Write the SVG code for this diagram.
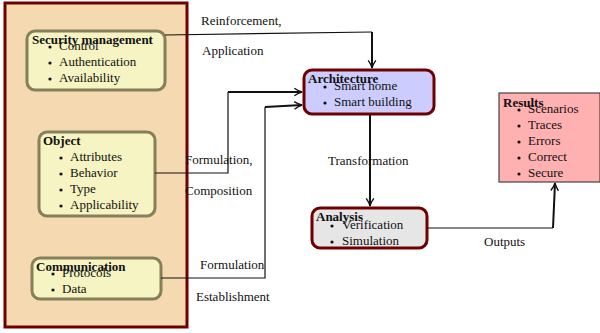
<svg xmlns="http://www.w3.org/2000/svg" width="600" height="333" viewBox="0 0 600 333">
  <defs>
    <style>
      text { font-size: 13px; fill: #111; }
      .title { font-weight: bold; }
      .inner { fill: #F5F4C2; stroke: #857F5C; stroke-width: 3; }
      .main { stroke: #700000; stroke-width: 3; }
      .thin { fill: none; stroke: #111; stroke-width: 1.2; }
      .thick { fill: none; stroke: #111; stroke-width: 2; }
      .dot { fill: #111; }
    </style>
    <marker id="arrow" viewBox="0 0 10 10" refX="9" refY="5" markerWidth="9" markerHeight="9" markerUnits="userSpaceOnUse" orient="auto" overflow="visible">
      <path d="M0.5,0.8 Q5,4 9,5 Q5,6 0.5,9.2" fill="none" stroke="#111" stroke-width="1.5"/>
    </marker>
  </defs>

  <g font-family="Liberation Serif, Times New Roman, serif">
  <!-- container for the input aspects -->
  <rect id="container" x="5" y="3" width="182" height="324" fill="#F5D9B1" class="main"/>

  <g id="security">
    <rect class="inner" x="27" y="31" width="138" height="59" rx="8"/>
    <text class="title" x="32" y="44">Security management</text>
    <circle class="dot" cx="50" cy="47" r="1.6"/><text x="59" y="50">Control</text>
    <circle class="dot" cx="50" cy="63" r="1.6"/><text x="59" y="66">Authentication</text>
    <circle class="dot" cx="50" cy="79" r="1.6"/><text x="59" y="82">Availability</text>
  </g>

  <g id="object">
    <rect class="inner" x="39" y="132" width="116" height="84" rx="8"/>
    <text class="title" x="43" y="145">Object</text>
    <circle class="dot" cx="61" cy="158" r="1.6"/><text x="70" y="161">Attributes</text>
    <circle class="dot" cx="61" cy="174" r="1.6"/><text x="70" y="177">Behavior</text>
    <circle class="dot" cx="61" cy="190" r="1.6"/><text x="70" y="193">Type</text>
    <circle class="dot" cx="61" cy="206" r="1.6"/><text x="70" y="209">Applicability</text>
  </g>

  <g id="communication">
    <rect class="inner" x="32" y="258" width="129" height="41" rx="8"/>
    <text class="title" x="36" y="271">Communication</text>
    <circle class="dot" cx="53" cy="274" r="1.6"/><text x="62" y="277">Protocols</text>
    <circle class="dot" cx="53" cy="290" r="1.6"/><text x="62" y="293">Data</text>
  </g>

  <g id="architecture">
    <rect x="304" y="70" width="130" height="44" rx="8" fill="#CCCCFF" class="main"/>
    <text class="title" x="308" y="83">Architecture</text>
    <circle class="dot" cx="325" cy="87" r="1.6"/><text x="334" y="90">Smart home</text>
    <circle class="dot" cx="325" cy="103" r="1.6"/><text x="334" y="106">Smart building</text>
  </g>

  <g id="analysis">
    <rect x="312" y="208" width="115" height="40" rx="8" fill="#E6E6E6" class="main"/>
    <text class="title" x="316" y="221">Analysis</text>
    <circle class="dot" cx="332" cy="226" r="1.6"/><text x="342" y="229">Verification</text>
    <circle class="dot" cx="332" cy="242" r="1.6"/><text x="342" y="245">Simulation</text>
  </g>

  <g id="results">
    <rect x="499" y="93" width="101" height="89" fill="#FFB0B0" stroke="#444" stroke-width="1.2"/>
    <text class="title" x="503" y="107">Results</text>
    <circle class="dot" cx="519" cy="110" r="1.6"/><text x="528" y="113">Scenarios</text>
    <circle class="dot" cx="519" cy="126" r="1.6"/><text x="528" y="129">Traces</text>
    <circle class="dot" cx="519" cy="142" r="1.6"/><text x="528" y="145">Errors</text>
    <circle class="dot" cx="519" cy="158" r="1.6"/><text x="528" y="161">Correct</text>
    <circle class="dot" cx="519" cy="174" r="1.6"/><text x="528" y="177">Secure</text>
  </g>

  <g id="connectors">
    <!-- security -> architecture -->
    <path class="thin" d="M165,35 L372,32"/>
    <path class="thick" d="M372,32 L372,68" marker-end="url(#arrow)"/>
    <!-- object -> architecture -->
    <path class="thin" d="M155,173 L228,173 L228,92"/>
    <path class="thick" d="M228,92 L302,92" marker-end="url(#arrow)"/>
    <!-- communication -> architecture -->
    <path class="thin" d="M161,278 L265,278 L265,107"/>
    <path class="thick" d="M265,107 L302,105" marker-end="url(#arrow)"/>
    <!-- architecture -> analysis -->
    <path class="thick" d="M370,115 L370,206" marker-end="url(#arrow)"/>
    <!-- analysis -> results -->
    <path class="thin" d="M427,228 L553,228"/>
    <path class="thick" d="M553,228 L555,183" marker-end="url(#arrow)"/>

    <text x="201" y="25">Reinforcement,</text>
    <text x="202" y="55">Application</text>
    <text x="185" y="164">Formulation,</text>
    <text x="185" y="195">Composition</text>
    <text x="200" y="269">Formulation</text>
    <text x="196" y="301">Establishment</text>
    <text x="328" y="165">Transformation</text>
    <text x="484" y="246">Outputs</text>
  </g>
  </g>
</svg>
